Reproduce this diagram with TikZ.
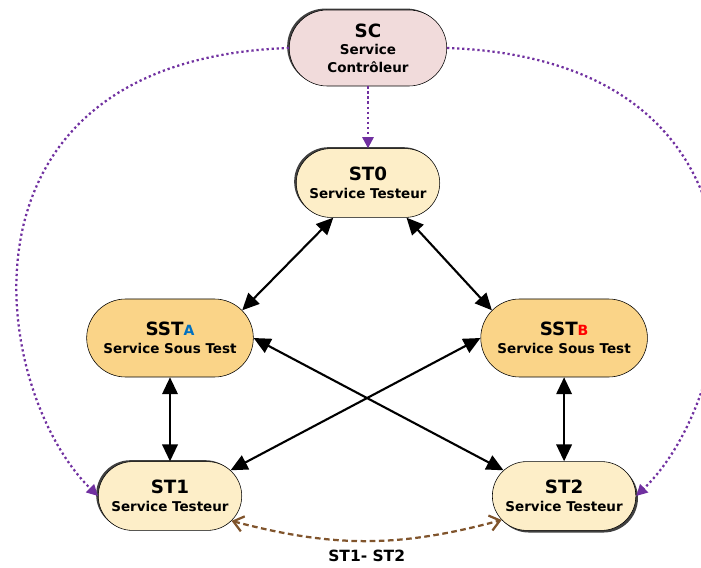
\documentclass[tikz,border=0pt]{standalone}
\usepackage{fontspec}
\setmainfont{DejaVu Sans}
\usetikzlibrary{arrows.meta, positioning, shapes.misc, shadows}

\definecolor{scfill}{RGB}{241,219,219}
\definecolor{stfill}{RGB}{253,238,200}
\definecolor{sstfill}{RGB}{250,212,136}
\definecolor{ctrlpurple}{RGB}{112,48,160}
\definecolor{peerbrown}{RGB}{128,84,44}
\definecolor{tagblue}{RGB}{0,112,192}
\definecolor{tagred}{RGB}{255,0,0}

\begin{document}
\begin{tikzpicture}[
    x=0.025cm, y=0.025cm,
    node distance=1.55cm and 5.67cm,
    controller/.style={draw, rounded rectangle, fill=scfill, minimum width=4.17cm, minimum height=1.9cm, align=center, font=\fontsize{9.6}{12.5}\selectfont\bfseries},
    tester/.style={draw, rounded rectangle, fill=stfill, minimum width=3.82cm, minimum height=1.72cm, align=center, font=\fontsize{9.6}{12.8}\selectfont\bfseries},
    sut/.style={draw, rounded rectangle, fill=sstfill, minimum width=4.4cm, minimum height=1.95cm, align=center, font=\fontsize{9.6}{12.8}\selectfont\bfseries},
    shade left/.style={drop shadow={shadow xshift=-1.5pt, shadow yshift=1pt, fill=black!75, opacity=1}},
    shade right/.style={drop shadow={shadow xshift=1.5pt, shadow yshift=-1.5pt, fill=black!75, opacity=1}},
    link/.style={{Triangle[length=12pt,width=11pt]}-{Triangle[length=12pt,width=11pt]}, line width=1.5pt},
    ctrl/.style={-{Triangle[length=8pt,width=8pt]}, ctrlpurple, line width=1.6pt, dash pattern=on 1.6pt off 2pt},
    peer/.style={{Straight Barb[length=7pt,width=11pt]}-{Straight Barb[length=7pt,width=11pt]}, peerbrown, line width=1.6pt, dash pattern=on 4pt off 2.5pt}
]
    \useasboundingbox (0,0) rectangle (701,567);

    % Nodes
    \node[controller, shade left] (sc) at (368,519) {{\fontsize{13}{13}\selectfont SC}\\Service\\Contrôleur};
    \node[tester, shade left] (st0) [below=of sc] {{\fontsize{13}{13}\selectfont ST0}\\Service Testeur};

    \node[sut] (ssta) at (170,229) {{\fontsize{13}{13}\selectfont SST\textcolor{tagblue}{\fontsize{10}{10}\selectfont A}}\\Service Sous Test};
    \node[sut] (sstb) [right=of ssta] {{\fontsize{13}{13}\selectfont SST\textcolor{tagred}{\fontsize{10}{10}\selectfont B}}\\Service Sous Test};

    \node[tester, shade left] (st1) [below=2.1cm of ssta] {{\fontsize{13}{13}\selectfont ST1}\\Service Testeur};
    \node[tester, shade right] (st2) [below=2.1cm of sstb] {{\fontsize{13}{13}\selectfont ST2}\\Service Testeur};

    % Arrows
    \draw[link] (st0.225) -- (ssta.21);
    \draw[link] (st0.318) -- (sstb.159);
    \draw[link] (ssta.south) -- (st1.north);
    \draw[link] (sstb.south) -- (st2.north);
    \draw[link] (ssta.east) -- (st2.157);
    \draw[link] (sstb.west) -- (st1.23);

    \draw[ctrl] (sc.south) -- (st0.north);
    \draw[ctrl] (sc.west) .. controls (-60,507) and (-10,177) .. (st1.west);
    \draw[ctrl] (sc.east) .. controls (796,507) and (746,177) .. (st2.east);

    \draw[peer] (st1.338) to[bend right=15] node[below=2.5pt, text=black, font=\fontsize{11}{11}\selectfont\bfseries] (peerlbl) {ST1- ST2} (st2.201);
\end{tikzpicture}
\end{document}
